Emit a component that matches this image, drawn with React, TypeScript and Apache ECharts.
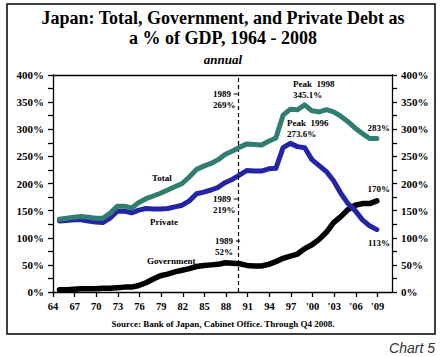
import React, { useEffect, useRef } from "react";
import * as echarts from "echarts";

const years: number[] = [];
for (let y = 1964; y <= 2008; y++) years.push(y);

const totalDebt = [
  134, 136, 138, 139, 138, 136, 136, 145, 158, 158,
  155, 165, 172, 177, 182, 188, 194, 200, 212, 226,
  232, 237, 244, 254, 260, 267, 273, 272, 271, 278,
  284, 326, 337, 336, 345, 334, 332, 336, 332, 324,
  314, 302, 292, 283, 283,
];
const privateDebt = [
  131, 132, 133, 133, 131, 129, 128, 136, 149, 149,
  146, 151, 154, 153, 153, 154, 157, 160, 168, 181,
  184, 188, 193, 202, 208, 216, 224, 223, 223, 227,
  228, 266, 274, 268, 266, 244, 233, 222, 205, 182,
  163, 150, 133, 122, 115,
];
const governmentDebt = [
  4, 4, 5, 6, 6, 6, 7, 7, 8, 9,
  9, 12, 17, 24, 30, 33, 37, 40, 43, 47,
  49, 50, 51, 54, 53, 52, 49, 48, 48, 51,
  56, 62, 66, 70, 80, 87, 97, 110, 128, 139,
  152, 160, 163, 163, 168,
];
const xTickStart = 1964;
const xTickStep = 3;
const yTickStep = 25;
const yLabelStep = 50;
const marker1989 = 1989.75;
const pointOffset = 0.9;

const SERIF = "'Liberation Serif', 'Times New Roman', serif";

function txt(text: string, x: number, y: number, opts: any = {}) {
  return {
    type: "text",
    x,
    y,
    silent: true,
    style: {
      text,
      fill: opts.fill || "#000",
      fontFamily: opts.fontFamily || SERIF,
      fontSize: opts.fontSize || 9,
      fontWeight: opts.fontWeight || "bold",
      fontStyle: opts.fontStyle || "normal",
      align: opts.align || "left",
      verticalAlign: "middle",
      textAlign: opts.align || "left",
      textVerticalAlign: "middle",
    },
  };
}

export default function App() {
  const ref = useRef<HTMLDivElement>(null);
  useEffect(() => {
    if (!ref.current) return;
    const chart = echarts.init(ref.current, undefined, { renderer: "svg" });
    const pts = (vals: number[]) => vals.map((v, i) => [years[i] + pointOffset, v]);
    const yLabel = (v: number) => (v % yLabelStep === 0 ? v + "%" : "");
    const axisLabelStyle = {
      fontFamily: SERIF,
      fontWeight: "bold",
      fontSize: 11,
      color: "#000",
    };
    const option: any = {
      animation: false,
      backgroundColor: "#fff",
      grid: { left: 53, right: 55, top: 75, bottom: 65 },
      xAxis: [
        {
          type: "value",
          min: 1964,
          max: 2011,
          interval: xTickStep,
          axisLine: { show: true, lineStyle: { color: "#000", width: 1.3 } },
          axisTick: { show: true, inside: false, length: 5, lineStyle: { color: "#000", width: 1.3 } },
          splitLine: { show: false },
          axisLabel: {
            ...axisLabelStyle,
            fontSize: 10.5,
            margin: 9,
            showMaxLabel: false,
            formatter: (v: number) => {
              if ((v - xTickStart) % xTickStep !== 0) return "";
              const yy = v % 100;
              return v >= 2000 ? "'" + String(yy).padStart(2, "0") : String(yy);
            },
          },
        },
        {
          type: "value",
          position: "top",
          min: 1964,
          max: 2011,
          axisLine: { show: true, onZero: false, lineStyle: { color: "#000", width: 1.3 } },
          axisTick: { show: false },
          axisLabel: { show: false },
          splitLine: { show: false },
        },
      ],
      yAxis: [
        {
          type: "value",
          min: 0,
          max: 400,
          interval: yTickStep,
          position: "left",
          axisLine: { show: true, lineStyle: { color: "#000", width: 1.3 } },
          axisTick: { show: true, length: 5, lineStyle: { color: "#000", width: 1.3 } },
          splitLine: { show: false },
          axisLabel: { ...axisLabelStyle, margin: 9, formatter: yLabel },
        },
        {
          type: "value",
          min: 0,
          max: 400,
          interval: yTickStep,
          position: "right",
          axisLine: { show: true, lineStyle: { color: "#000", width: 1.3 } },
          axisTick: { show: true, length: 5, lineStyle: { color: "#000", width: 1.3 } },
          splitLine: { show: false },
          axisLabel: { ...axisLabelStyle, margin: 9, formatter: yLabel },
        },
      ],
      series: [
        {
          name: "Government",
          type: "line",
          data: pts(governmentDebt),
          symbol: "none",
          lineStyle: { color: "#000", width: 5.5, join: "round", cap: "round" },
          z: 3,
        },
        {
          name: "Private",
          type: "line",
          data: pts(privateDebt),
          symbol: "none",
          lineStyle: { color: "#2424A8", width: 5, join: "round", cap: "round" },
          z: 4,
        },
        {
          name: "Total",
          type: "line",
          data: pts(totalDebt),
          symbol: "none",
          lineStyle: { color: "#2F7E70", width: 5, join: "round", cap: "round" },
          z: 5,
          markLine: {
            silent: true,
            symbol: "none",
            label: { show: false },
            lineStyle: { color: "#000", type: [4, 3], width: 1.2 },
            data: [{ xAxis: marker1989 }],
          },
        },
      ],
      graphic: [
        {
          type: "rect",
          shape: { x: 7, y: 4, width: 428, height: 330 },
          style: { fill: "none", stroke: "#000", lineWidth: 1.5 },
          silent: true,
          z: -10,
        },
        txt("Japan: Total, Government, and Private Debt as", 223, 18, { fontSize: 18, align: "center" }),
        txt("a % of GDP, 1964 - 2008", 223, 38, { fontSize: 18, align: "center" }),
        txt("annual", 223, 59, { fontSize: 13, align: "center", fontStyle: "italic" }),
        txt("Total", 152, 178),
        txt("Private", 150, 222),
        txt("Government", 147, 261),
        txt("1989 =", 213, 94),
        txt("269%", 213, 105),
        txt("1989 =", 213, 199),
        txt("219%", 213, 210),
        txt("1989 =", 215, 241),
        txt("52%", 215, 252),
        txt("Peak  1998", 293, 84),
        txt("345.1%", 293, 95),
        txt("Peak  1996", 287, 123),
        txt("273.6%", 287, 134),
        txt("283%", 390, 128, { align: "right" }),
        txt("170%", 390, 189, { align: "right" }),
        txt("113%", 390, 243, { align: "right" }),
        txt("Source: Bank of Japan, Cabinet Office. Through Q4 2008.", 223, 324, { fontSize: 9, align: "center" }),
        txt("Chart 5", 435, 348, {
          fontSize: 14,
          align: "right",
          fontWeight: "normal",
          fontStyle: "italic",
          fontFamily: "'Liberation Sans', Arial, sans-serif",
          fill: "#333",
        }),
      ],
    };
    chart.setOption(option);
    return () => chart.dispose();
  }, []);
  return (
    <div
      ref={ref}
      style={{ position: "fixed", left: 0, top: 0, width: 447, height: 357, background: "#fff" }}
    />
  );
}
